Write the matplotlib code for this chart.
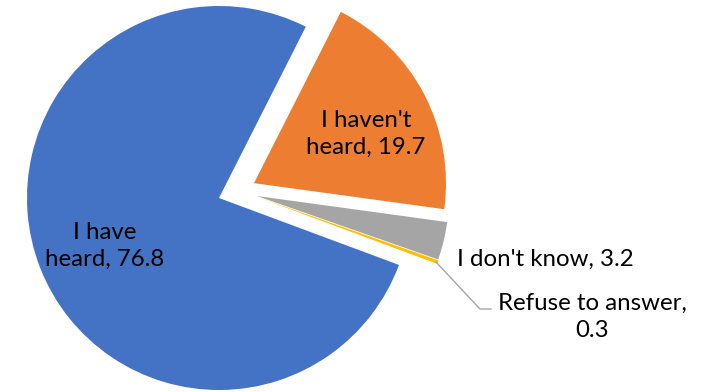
import numpy as np
import matplotlib.pyplot as plt

labels = ["I have\nheard", "I haven't\nheard", "I don't know", "Refuse to answer"]
values = [76.8, 19.7, 3.2, 0.3]
colors = ["#4472C4", "#ED7D31", "#A5A5A5", "#FFC000"]

# how far each slice is pulled out, and in which direction (degrees)
pull = [0.0, 0.198, 0.198, 0.2]
pull_dir = [0.0, 23.0, 3.0, 1.5]

W, H = 715, 392
cx, cy, R = 219, 198, 192   # pie centre and radius in pixels

fig = plt.figure(figsize=(W / 100, H / 100), dpi=100)
ax = fig.add_axes([0, 0, 1, 1])

wedges, _ = ax.pie(values, colors=colors, startangle=-20.4, counterclock=False,
                   radius=1.0, wedgeprops=dict(linewidth=0))
for w, d, a in zip(wedges, pull, pull_dir):
    t = np.deg2rad(a)
    w.set_center((d * np.cos(t), d * np.sin(t)))

# pie() sets its own limits, so fix the view afterwards
ax.set_xlim(-cx / R, (W - cx) / R)
ax.set_ylim(-(H - cy) / R, cy / R)
ax.set_aspect("equal")
ax.axis("off")


def px(x, y):
    return (x - cx) / R, (cy - y) / R


font = dict(family="Lato", fontsize=17.3, color="black")
ax.text(*px(105, 246), f"I have\nheard, {values[0]}", ha="center", va="center",
        linespacing=1.38, **font)
ax.text(*px(366, 134), f"I haven't\nheard, {values[1]}", ha="center", va="center",
        linespacing=1.38, **font)
ax.text(*px(457, 259), f"I don't know, {values[2]}", ha="left", va="center", **font)
ax.text(*px(592, 317), f"Refuse to answer,\n{values[3]}", ha="center", va="center",
        linespacing=1.38, **font)

# leader line for the smallest slice
lx, ly = zip(px(436, 262), px(480, 309), px(491, 309))
ax.plot(lx, ly, color="#A6A6A6", lw=1)

fig.savefig("out.png", dpi=100)
